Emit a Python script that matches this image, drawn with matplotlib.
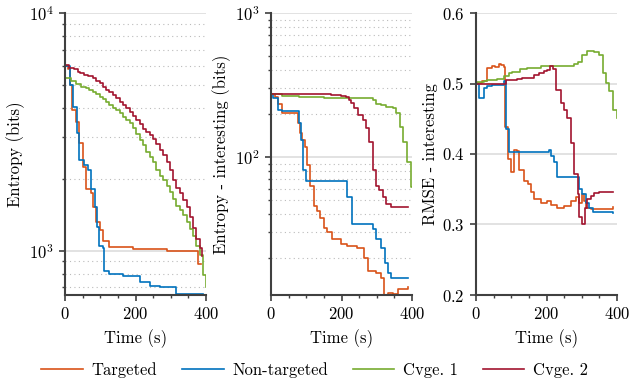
import matplotlib
matplotlib.use("Agg")
import matplotlib.pyplot as plt
from matplotlib.ticker import MultipleLocator, LogLocator, NullFormatter

plt.rcParams["font.family"] = "serif"
plt.rcParams["font.serif"] = ["cmr10", "DejaVu Serif"]
plt.rcParams["mathtext.fontset"] = "cm"
plt.rcParams["axes.formatter.use_mathtext"] = True
plt.rcParams["font.size"] = 12

#COLOURS / NAMES
names = ["Targeted", "Non-targeted", "Cvge. 1", "Cvge. 2"]
colors = ["#D95319", "#0072BD", "#77AC30", "#A2142F"]

#PANEL 1 - ENTROPY
ent_t = {
    "Targeted": [0, 8, 14, 20, 31, 41, 50, 60, 74, 79, 88, 98, 107, 126, 193, 288, 378, 385],
    "Non-targeted": [0, 8, 14, 24, 33, 41, 55, 65, 74, 84, 90, 96, 107, 110, 126, 164, 212, 240, 269, 316, 392],
    "Cvge. 1": [0, 17, 31, 46, 60, 69, 79, 88, 98, 107, 117, 126, 136, 145, 155, 164, 174, 183, 193, 202,
                212, 221, 231, 240, 250, 259, 269, 278, 288, 297, 307, 316, 326, 335, 345, 354, 364, 373,
                383, 392, 400],
    "Cvge. 2": [0, 12, 26, 36, 43, 55, 64, 79, 88, 98, 107, 117, 126, 136, 145, 155, 164, 174, 183, 193,
                202, 212, 221, 231, 240, 250, 259, 269, 278, 288, 297, 307, 316, 326, 335, 345, 354, 364,
                373, 383, 390],
}
ent_v = {
    "Targeted": [6000, 5800, 4980, 3910, 3490, 2825, 2250, 1810, 1740, 1524, 1318, 1220, 1100, 1035, 1020, 1000, 880, 880],
    "Non-targeted": [6000, 6000, 4980, 4040, 3115, 2415, 2290, 2180, 1820, 1520, 1255, 1050, 1030, 822, 800, 785, 735, 711, 700, 656, 656],
    "Cvge. 1": [5310, 5180, 5010, 4900, 4820, 4740, 4640, 4550, 4440, 4330, 4230, 4100, 3970, 3900, 3780, 3660, 3540, 3430, 3290, 3100,
                2920, 2780, 2600, 2480, 2360, 2180, 2055, 1977, 1864, 1763, 1653, 1535, 1476, 1406, 1318, 1236, 1146, 1050,
                960, 790, 700],
    "Cvge. 2": [6050, 5890, 5800, 5670, 5580, 5490, 5450, 5350, 5180, 5060, 4900, 4740, 4670, 4520, 4370, 4230, 4100, 3970, 3840, 3690,
                3540, 3400, 3240, 3160, 3060, 2940, 2820, 2660, 2520, 2360, 2180, 1980, 1840, 1750, 1630, 1520, 1380, 1250,
                1120, 1030, 953],
}

#PANEL 2 - ENTROPY INTERESTING
ent_i_t = {
    "Targeted": [0, 11, 21, 31, 76, 83, 88, 97, 102, 112, 121, 131, 140, 150, 159, 174, 198, 217, 245, 264,
                 274, 298, 312, 320, 331, 345, 360, 374, 388],
    "Non-targeted": [0, 7, 19, 31, 79, 86, 91, 100, 212, 217, 231, 288, 298, 312, 322, 331, 341, 388],
    "Cvge. 1": [0, 30, 80, 150, 288, 298, 312, 327, 346, 355, 365, 374, 387, 398, 400],
    "Cvge. 2": [0, 169, 198, 212, 222, 228, 236, 246, 260, 269, 279, 288, 298, 307, 317, 327, 341, 389],
}
ent_i_v = {
    "Targeted": [275, 261, 234, 203, 171, 146, 131, 118, 87.5, 63, 45.8, 42, 37.9, 32.3, 29.9, 26.9, 25.0, 24.1, 23.5, 20.0,
                 16.2, 15.7, 14.4, 11.0, 11.4, 11.2, 12.2, 12.2, 12.5],
    "Non-targeted": [274, 257, 212, 207, 173, 131, 80.8, 68.6, 68.6, 52.5, 34.1, 31.7, 27.0, 23.5, 18.4, 15.6, 14.4, 14.4],
    "Cvge. 1": [272, 265, 259, 257, 247, 234, 228, 224, 218, 201, 162, 127, 92.3, 61.6, 61.6],
    "Cvge. 2": [274, 270, 266, 261, 250, 237, 218, 196, 181, 158, 127, 80.7, 63.3, 59, 52.5, 47.1, 45.2, 44.7],
}

#PANEL 3 - RMSE INTERESTING
rmse_t = {
    "Targeted": [0, 17, 31, 46, 55, 64, 72, 79, 82, 90, 100, 109, 117, 122, 136, 147, 155, 164, 183, 202,
                 212, 231, 250, 269, 283, 293, 302, 307, 312, 326, 388],
    "Non-targeted": [0, 8, 22, 31, 45, 79, 86, 93, 207, 212, 221, 231, 288, 293, 302, 312, 321, 331, 388],
    "Cvge. 1": [0, 22, 31, 60, 79, 93, 103, 126, 145, 183, 278, 288, 302, 316, 335, 349, 359, 368, 378, 388, 400],
    "Cvge. 2": [0, 84, 117, 131, 164, 178, 193, 202, 210, 219, 226, 240, 250, 259, 269, 278, 288, 293, 302, 309,
                316, 326, 336, 350, 388],
}
rmse_v = {
    "Targeted": [0.501, 0.504, 0.522, 0.5246, 0.523, 0.527, 0.526, 0.523, 0.439, 0.393, 0.374, 0.405, 0.404, 0.377, 0.362, 0.358,
                 0.346, 0.336, 0.331, 0.334, 0.328, 0.323, 0.326, 0.334, 0.339, 0.331, 0.343, 0.334, 0.324, 0.322, 0.325],
    "Non-targeted": [0.5, 0.479, 0.494, 0.496, 0.4975, 0.503, 0.436, 0.403, 0.405, 0.397, 0.389, 0.368, 0.368, 0.35, 0.343,
                     0.331, 0.324, 0.318, 0.317],
    "Cvge. 1": [0.502, 0.503, 0.5055, 0.507, 0.510, 0.515, 0.517, 0.520, 0.522, 0.5255, 0.528, 0.530, 0.541, 0.5456, 0.544,
                0.541, 0.515, 0.5007, 0.489, 0.4625, 0.451],
    "Cvge. 2": [0.500, 0.5055, 0.507, 0.508, 0.5117, 0.515, 0.518, 0.519, 0.5246, 0.520, 0.491, 0.472, 0.4625, 0.4506, 0.415,
                0.372, 0.343, 0.31, 0.301, 0.324, 0.336, 0.341, 0.344, 0.346, 0.346],
}

fig = plt.figure(figsize=(6.29, 3.83), dpi=100)
lefts = [65 / 629, 271 / 629, 476 / 629]
axes = [fig.add_axes([l, 1 - 295 / 383, 141 / 629, 282 / 383]) for l in lefts]

panels = [
    (ent_t, ent_v, "Entropy (bits)", True, (650, 1e4)),
    (ent_i_t, ent_i_v, "Entropy - interesting (bits)", True, (11.0, 1e3)),
    (rmse_t, rmse_v, "RMSE - interesting", False, (0.2, 0.6)),
]

spine_col = "#404040"
for ax, (ts, vs, ylab, logy, ylim) in zip(axes, panels):
    for name, c in zip(names, colors):
        ax.plot(ts[name], vs[name], drawstyle="steps-post", color=c, lw=1.2, label=name)
    if logy:
        ax.set_yscale("log")
        ax.yaxis.set_minor_locator(LogLocator(base=10, subs=range(2, 10)))
        ax.yaxis.set_minor_formatter(NullFormatter())
        ax.grid(True, which="minor", axis="y", linestyle=(0, (1, 3)), color="#bbbbbb", lw=0.8)
    else:
        ax.yaxis.set_major_locator(MultipleLocator(0.1))
    ax.grid(True, which="major", axis="y", color="#dddddd", lw=1.2)
    ax.set_axisbelow(True)
    ax.set_ylim(*ylim)
    ax.set_xlim(0, 400)
    ax.xaxis.set_major_locator(MultipleLocator(200))
    ax.xaxis.set_minor_locator(MultipleLocator(50))
    ax.set_xlabel("Time (s)", labelpad=5)
    ax.set_ylabel(ylab, labelpad=3)
    for s in ["top", "right"]:
        ax.spines[s].set_visible(False)
    for s in ["left", "bottom"]:
        ax.spines[s].set_color(spine_col)
        ax.spines[s].set_linewidth(1.5)
    ax.tick_params(which="major", direction="out", length=4, width=1.2, color=spine_col, labelsize=12, pad=4)
    ax.tick_params(which="minor", direction="out", length=2.5, width=1.0, color=spine_col)

handles, labels = axes[0].get_legend_handles_labels()
fig.legend(handles, labels, loc="center", bbox_to_anchor=(0.5, 1 - 370 / 383), ncol=4,
           frameon=False, handlelength=2.5, columnspacing=1.5, handletextpad=0.5, fontsize=12)

fig.savefig("out.png", dpi=100)
